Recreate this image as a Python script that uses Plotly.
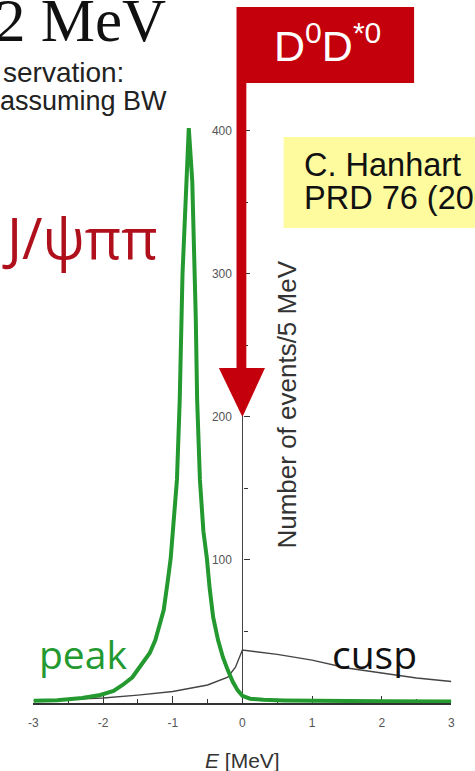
import plotly.graph_objects as go

# Energy relative to the D0 D*0 threshold [MeV] and event counts per 5 MeV
peak_E = [-3.0, -2.66, -2.3, -2.04, -1.85, -1.72, -1.58, -1.44, -1.33, -1.25,
          -1.13, -1.07, -1.03, -0.94, -0.90, -0.86, -0.82, -0.79, -0.77,
          -0.72, -0.69, -0.67, -0.65, -0.61, -0.56, -0.51, -0.47, -0.42,
          -0.35, -0.28, -0.21, -0.14, -0.07, 0.0, 0.11, 0.3, 0.6, 1.0, 2.0, 3.0]
peak_N = [1.5, 2.0, 3.5, 5.6, 8.5, 12.6, 18, 27, 35, 44,
          65, 86, 101, 156, 212, 300, 350, 387, 402,
          365, 320, 270, 212, 156, 120, 101, 80, 60,
          44, 32, 23, 15, 9, 5, 3, 2.2, 1.8, 1.5, 1.2, 1.0]

cusp_E = [-3.0, -2.5, -2.0, -1.5, -1.0, -0.5, -0.21, -0.1, 0.0,
          0.5, 1.0, 1.5, 2.0, 2.5, 3.0]
cusp_N = [1.5, 2.5, 3.5, 5.5, 8, 12.6, 18, 25, 37,
          34, 30, 24.5, 21, 17.5, 15]

x_ticks = [-3, -2, -1, 0, 1, 2, 3]
x_tick_text = ["-3", "-2", "-1", "0", "1", "2", "3"]
y_ticks = [100, 200, 300, 400]

W, H = 475, 771


def px(x):
    return x / W


def py(y):
    return 1 - y / H


GREEN = "#23992f"
RED = "#c3000b"

fig = go.Figure()
fig.add_trace(go.Scatter(x=cusp_E, y=cusp_N, mode="lines",
                         line=dict(color="#444444", width=1.4),
                         hoverinfo="skip", showlegend=False))
fig.add_trace(go.Scatter(x=peak_E, y=peak_N, mode="lines",
                         line=dict(color=GREEN, width=4),
                         hoverinfo="skip", showlegend=False))

shapes = [
    # flag with the threshold label
    dict(type="rect", xref="paper", yref="paper",
         x0=px(236), x1=px(417), y0=py(83), y1=py(7),
         fillcolor=RED, line_width=0, layer="above"),
    # flag pole
    dict(type="rect", xref="paper", yref="paper",
         x0=px(236), x1=px(246), y0=py(370), y1=py(83),
         fillcolor=RED, line_width=0, layer="above"),
    # arrow head pointing at the threshold
    dict(type="path", xref="paper", yref="paper",
         path=f"M {px(218)},{py(368)} L {px(265)},{py(368)} L {px(242)},{py(417)} Z",
         fillcolor=RED, line_width=0, layer="above"),
    # reference box
    dict(type="rect", xref="paper", yref="paper",
         x0=px(284), x1=px(480), y0=py(228), y1=py(137),
         fillcolor="#fdfb9e", line_width=0, layer="above"),
]

annotations = [
    dict(text="2 MeV", x=px(166), y=py(20), xanchor="right", yanchor="middle",
         font=dict(family="Liberation Serif", size=61, color="#111")),
    dict(text="servation:", x=px(123), y=py(72), xanchor="right", yanchor="middle",
         font=dict(family="Liberation Sans", size=28, color="#222")),
    dict(text="assuming BW", x=px(167), y=py(101), xanchor="right", yanchor="middle",
         font=dict(family="Liberation Sans", size=27, color="#222")),
    dict(text="D<sup>0</sup>D<sup>*0</sup>", x=px(329), y=py(43),
         xanchor="center", yanchor="middle",
         font=dict(family="Liberation Sans", size=43, color="white")),
    dict(text="C. Hanhart", x=px(303), y=py(165), xanchor="left", yanchor="middle",
         font=dict(family="Liberation Sans", size=32.5, color="#111")),
    dict(text="PRD 76 (2007)", x=px(303), y=py(198), xanchor="left", yanchor="middle",
         font=dict(family="Liberation Sans", size=32.5, color="#111")),
    dict(text="J/ψππ", x=px(158), y=py(237), xanchor="right", yanchor="middle",
         font=dict(family="Open Sans", size=56, color="#b0101c")),
    dict(text="peak", x=px(33), y=py(653), xanchor="left", yanchor="middle",
         font=dict(family="Open Sans", size=39, color=GREEN)),
    dict(text="cusp", x=px(331), y=py(653), xanchor="left", yanchor="middle",
         font=dict(family="Open Sans", size=39, color="#111")),
    dict(text="Number of events/5 MeV", x=px(287), y=py(405), textangle=-90,
         xanchor="center", yanchor="middle",
         font=dict(family="Liberation Sans", size=26, color="#333")),
    dict(text="<i>E</i> [MeV]", x=px(242), y=py(760), xanchor="center", yanchor="middle",
         font=dict(family="Liberation Sans", size=21, color="#333")),
]
for a in annotations:
    a.update(xref="paper", yref="paper", showarrow=False)

fig.update_layout(
    width=W, height=H,
    margin=dict(l=0, r=0, t=0, b=0),
    paper_bgcolor="white", plot_bgcolor="white",
    showlegend=False,
    shapes=shapes,
    annotations=annotations,
    xaxis=dict(range=[-3, 3], domain=[px(29), px(455)],
               showline=True, linecolor="#333", linewidth=1.5,
               ticks="inside", ticklen=7, tickwidth=1.2, tickcolor="#333",
               tickvals=x_ticks, ticktext=x_tick_text, ticklabelstandoff=8,
               tickfont=dict(family="Liberation Sans", size=12, color="#555"),
               minor=dict(ticks="inside", dtick=0.5, ticklen=4, tickcolor="#333"),
               showgrid=False, zeroline=False, layer="below traces"),
    yaxis=dict(range=[0, 415], domain=[68 / H, py(109.5)],
               anchor="free", position=px(242),
               showline=True, linecolor="#444", linewidth=1.2,
               ticks="inside", ticklen=6, tickwidth=1.2, tickcolor="#333",
               tickvals=y_ticks, ticklabelstandoff=8,
               tickfont=dict(family="Liberation Sans", size=12, color="#555"),
               minor=dict(ticks="inside", dtick=50, ticklen=4, tickcolor="#333"),
               showgrid=False, zeroline=False, layer="below traces"),
)

fig.write_html("out.html")
